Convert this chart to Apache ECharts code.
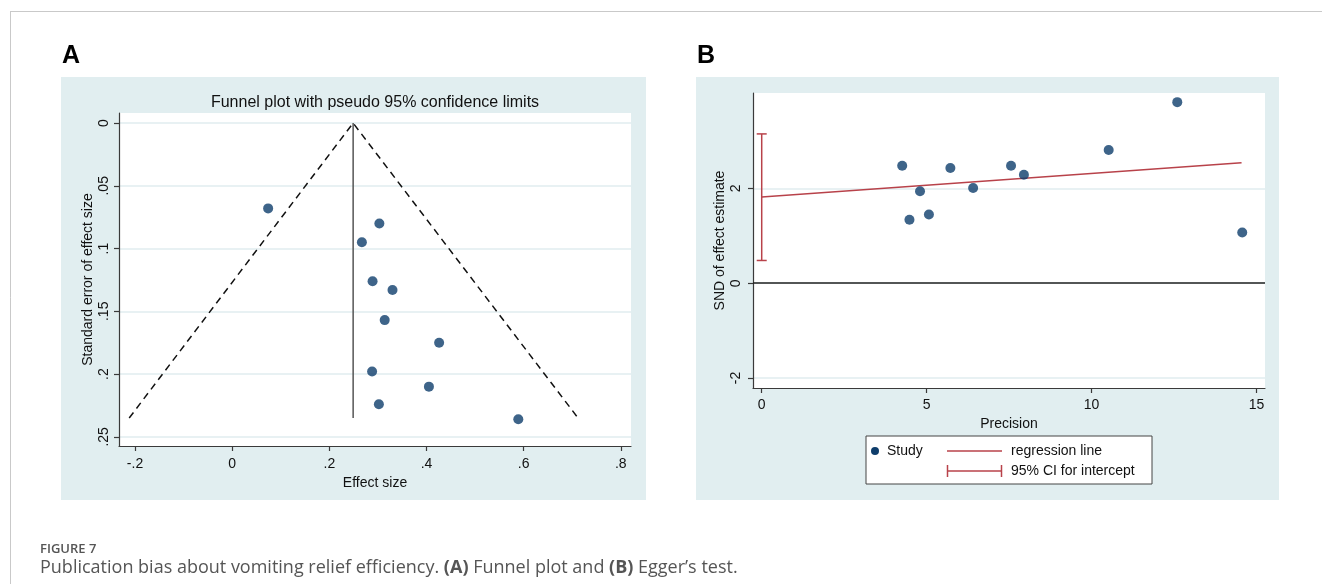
<!DOCTYPE html>
<html>
<head>
<meta charset="utf-8">
<script src="https://cdn.jsdelivr.net/npm/echarts@6/dist/echarts.min.js"></script>
<style>
html,body{margin:0;padding:0;background:#fff;}
#chart{width:1322px;height:584px;}
</style>
</head>
<body>
<div id="chart"></div>
<script>
// ---- Panel A: funnel plot data ----
const funnelEffect = [0.074, 0.303, 0.267, 0.289, 0.330, 0.314, 0.426, 0.288, 0.405, 0.302, 0.589];
const funnelSE     = [0.068, 0.080, 0.095, 0.126, 0.133, 0.157, 0.175, 0.198, 0.210, 0.224, 0.236];
const funnelLimitX  = [-0.212, 0.249, 0.712];
const funnelLimitSE = [0.235, 0, 0.235];
const pooledX  = [0.249, 0.249];
const pooledSE = [0, 0.235];
const aXTicks = [-0.2, 0, 0.2, 0.4, 0.6, 0.8];
const aXTickLabels = ['-.2', '0', '.2', '.4', '.6', '.8'];
const aYTicks = [0, 0.05, 0.1, 0.15, 0.2, 0.25];
const aYTickLabels = ['0', '.05', '.1', '.15', '.2', '.25'];

// ---- Panel B: Egger's test data ----
const eggerPrecision = [4.26, 4.48, 4.80, 5.07, 5.72, 6.41, 7.56, 7.95, 10.52, 12.60, 14.57];
const eggerSND       = [2.48, 1.34, 1.94, 1.45, 2.43, 2.01, 2.48, 2.29, 2.81, 3.82, 1.07];
const regLineX = [0, 14.55];
const regLineY = [1.82, 2.54];
const ciInterceptX = [0];
const ciLow  = [0.48];
const ciHigh = [3.15];
const bXTicks = [0, 5, 10, 15];
const bXTickLabels = ['0', '5', '10', '15'];
const bYTicks = [-2, 0, 2];
const bYTickLabels = ['-2', '0', '2'];

const NAVY = '#0e3d6b';
const RED = '#b8424a';
const BG = '#e1eef0';
const GRID = '#e1edef';
const AXIS = '#3a3a3a';
const FONT = '"Liberation Sans", Arial, sans-serif';

function labelFmt(ticks, labels) {
  return function (v) {
    for (let i = 0; i < ticks.length; i++) {
      if (Math.abs(ticks[i] - v) < 1e-9) return labels[i];
    }
    return '';
  };
}

const axisCommon = {
  axisLine: { show: true, onZero: false, lineStyle: { color: AXIS, width: 1.2 } },
  axisTick: { show: true, length: 5, lineStyle: { color: AXIS, width: 1.2 } },
  axisLabel: { color: '#111', fontSize: 14, fontFamily: FONT },
  nameTextStyle: { color: '#111', fontSize: 14, fontFamily: FONT },
  nameLocation: 'middle'
};

const chart = echarts.init(document.getElementById('chart'), null, { renderer: 'canvas' });

const option = {
  backgroundColor: '#ffffff',
  animation: false,
  grid: [
    { left: 119, top: 113, width: 512, height: 333, show: true, backgroundColor: '#ffffff', borderWidth: 0, containLabel: false },
    { left: 753, top: 93, width: 512, height: 295, show: true, backgroundColor: '#ffffff', borderWidth: 0, containLabel: false }
  ],
  xAxis: [
    Object.assign({}, axisCommon, {
      gridIndex: 0, type: 'value', min: -0.233, max: 0.821,
      name: 'Effect size', nameGap: 27,
      axisTick: Object.assign({}, axisCommon.axisTick, { customValues: aXTicks }),
      axisLabel: Object.assign({}, axisCommon.axisLabel, { customValues: aXTicks, formatter: labelFmt(aXTicks, aXTickLabels), margin: 11 }),
      splitLine: { show: false }
    }),
    Object.assign({}, axisCommon, {
      gridIndex: 1, type: 'value', min: -0.264, max: 15.26,
      name: 'Precision', nameGap: 28,
      axisTick: Object.assign({}, axisCommon.axisTick, { customValues: bXTicks }),
      axisLabel: Object.assign({}, axisCommon.axisLabel, { customValues: bXTicks, formatter: labelFmt(bXTicks, bXTickLabels), margin: 10 }),
      splitLine: { show: false }
    })
  ],
  yAxis: [
    Object.assign({}, axisCommon, {
      gridIndex: 0, type: 'value', inverse: true, min: -0.008, max: 0.2573,
      name: 'Standard error of effect size', nameGap: 24, nameRotate: 90,
      axisTick: Object.assign({}, axisCommon.axisTick, { customValues: aYTicks }),
      axisLabel: Object.assign({}, axisCommon.axisLabel, { customValues: aYTicks, formatter: labelFmt(aYTicks, aYTickLabels), rotate: 90, margin: 8 }),
      splitLine: { show: true, lineStyle: { color: GRID, width: 1.5 } }
    }),
    Object.assign({}, axisCommon, {
      gridIndex: 1, type: 'value', min: -2.21, max: 4.013,
      name: 'SND of effect estimate', nameGap: 26, nameRotate: 90,
      axisTick: Object.assign({}, axisCommon.axisTick, { customValues: bYTicks }),
      axisLabel: Object.assign({}, axisCommon.axisLabel, { customValues: bYTicks, formatter: labelFmt(bYTicks, bYTickLabels), rotate: 90, margin: 10 }),
      splitLine: { show: true, lineStyle: { color: GRID, width: 1.5 } }
    })
  ],
  series: [
    {
      type: 'line', xAxisIndex: 0, yAxisIndex: 0, silent: true,
      data: funnelLimitX.map((x, i) => [x, funnelLimitSE[i]]),
      symbol: 'none', lineStyle: { color: '#111', width: 1.5, type: [7, 5] }, z: 3
    },
    {
      type: 'line', xAxisIndex: 0, yAxisIndex: 0, silent: true,
      data: pooledX.map((x, i) => [x, pooledSE[i]]),
      symbol: 'none', lineStyle: { color: '#555', width: 1.5 }, z: 3
    },
    {
      type: 'scatter', xAxisIndex: 0, yAxisIndex: 0, silent: true,
      data: funnelEffect.map((x, i) => [x, funnelSE[i]]),
      symbol: 'circle', symbolSize: 10, itemStyle: { color: NAVY }, z: 5
    },
    {
      type: 'line', xAxisIndex: 1, yAxisIndex: 1, silent: true,
      data: regLineX.map((x, i) => [x, regLineY[i]]),
      symbol: 'none', lineStyle: { color: RED, width: 1.5 }, z: 3,
      markLine: {
        silent: true, symbol: 'none', label: { show: false },
        lineStyle: { color: '#222', width: 1.6, type: 'solid' },
        data: [{ yAxis: 0 }]
      }
    },
    {
      type: 'custom', xAxisIndex: 1, yAxisIndex: 1, silent: true,
      data: ciInterceptX.map((x, i) => [x, ciLow[i], ciHigh[i]]),
      renderItem: function (params, api) {
        const lo = api.coord([api.value(0), api.value(1)]);
        const hi = api.coord([api.value(0), api.value(2)]);
        const hw = 5;
        const st = { stroke: RED, lineWidth: 1.5 };
        return {
          type: 'group',
          children: [
            { type: 'line', shape: { x1: lo[0], y1: lo[1], x2: hi[0], y2: hi[1] }, style: st },
            { type: 'line', shape: { x1: lo[0] - hw, y1: lo[1], x2: lo[0] + hw, y2: lo[1] }, style: st },
            { type: 'line', shape: { x1: hi[0] - hw, y1: hi[1], x2: hi[0] + hw, y2: hi[1] }, style: st }
          ]
        };
      },
      z: 4
    },
    {
      type: 'scatter', xAxisIndex: 1, yAxisIndex: 1, silent: true,
      data: eggerPrecision.map((x, i) => [x, eggerSND[i]]),
      symbol: 'circle', symbolSize: 10, itemStyle: { color: NAVY }, z: 5
    }
  ],
  graphic: [
    // outer figure border
    { type: 'line', z: -20, shape: { x1: 10, y1: 11.5, x2: 1322, y2: 11.5 }, style: { stroke: '#c9c9c9', lineWidth: 1 } },
    { type: 'line', z: -20, shape: { x1: 10.5, y1: 11.5, x2: 10.5, y2: 584 }, style: { stroke: '#c9c9c9', lineWidth: 1 } },
    // panel backgrounds
    { type: 'rect', z: -10, shape: { x: 61, y: 77, width: 585, height: 423 }, style: { fill: BG } },
    { type: 'rect', z: -10, shape: { x: 696, y: 77, width: 583, height: 423 }, style: { fill: BG } },
    // panel letters
    { type: 'text', x: 62, y: 44, style: { text: 'A', font: 'bold 25px ' + FONT, fill: '#000' } },
    { type: 'text', x: 697, y: 44, style: { text: 'B', font: 'bold 25px ' + FONT, fill: '#000' } },
    // panel A title
    { type: 'text', x: 375, y: 103, style: { text: 'Funnel plot with pseudo 95% confidence limits', font: '16px ' + FONT, fill: '#111', align: 'center', verticalAlign: 'middle' } },
    // legend for panel B
    { type: 'rect', shape: { x: 866, y: 436, width: 286, height: 48 }, style: { fill: '#fff', stroke: '#444', lineWidth: 1 } },
    { type: 'circle', shape: { cx: 875, cy: 451, r: 4 }, style: { fill: NAVY } },
    { type: 'text', x: 887, y: 451, style: { text: 'Study', font: '14px ' + FONT, fill: '#111', verticalAlign: 'middle' } },
    { type: 'line', shape: { x1: 947, y1: 451, x2: 1002, y2: 451 }, style: { stroke: RED, lineWidth: 1.5 } },
    { type: 'text', x: 1011, y: 451, style: { text: 'regression line', font: '14px ' + FONT, fill: '#111', verticalAlign: 'middle' } },
    { type: 'line', shape: { x1: 947, y1: 471, x2: 1002, y2: 471 }, style: { stroke: RED, lineWidth: 1.5 } },
    { type: 'line', shape: { x1: 947.5, y1: 465, x2: 947.5, y2: 477 }, style: { stroke: RED, lineWidth: 1.5 } },
    { type: 'line', shape: { x1: 1001.5, y1: 465, x2: 1001.5, y2: 477 }, style: { stroke: RED, lineWidth: 1.5 } },
    { type: 'text', x: 1011, y: 471, style: { text: '95% CI for intercept', font: '14px ' + FONT, fill: '#111', verticalAlign: 'middle' } },
    // caption
    { type: 'text', x: 40, y: 549, style: { text: 'FIGURE 7', font: '600 13px "Open Sans", sans-serif', fill: '#555', verticalAlign: 'middle' } },
    { type: 'text', x: 40, y: 568, style: {
        text: '{n|Publication bias about vomiting relief efficiency. }{b|(A)}{n| Funnel plot and }{b|(B)}{n| Egger\u2019s test.}',
        verticalAlign: 'middle',
        rich: {
          n: { font: '18px "Open Sans", sans-serif', fill: '#555' },
          b: { font: 'bold 18px "Open Sans", sans-serif', fill: '#555' }
        }
      } }
  ]
};

chart.setOption(option);
</script>
</body>
</html>
